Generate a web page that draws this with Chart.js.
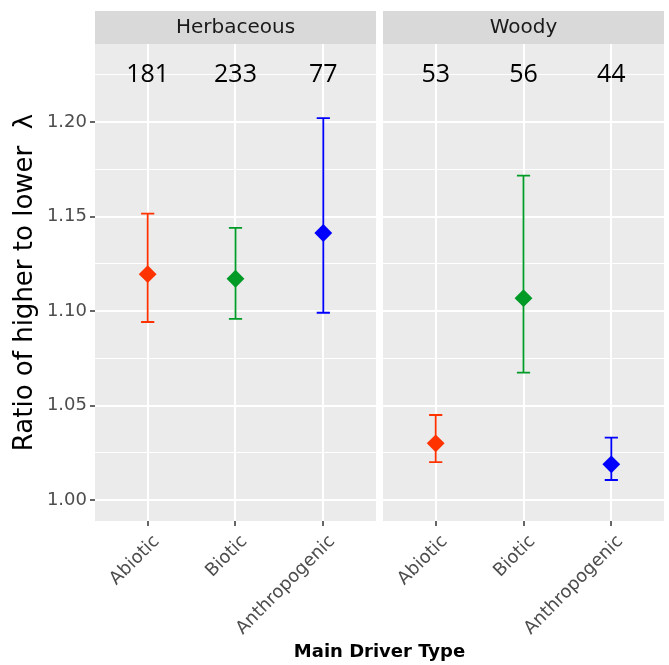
<!DOCTYPE html>
<html>
<head>
<meta charset="utf-8">
<script src="https://cdn.jsdelivr.net/npm/chart.js@4.4.0/dist/chart.umd.min.js"></script>
<style>
  html, body { margin: 0; padding: 0; background: #ffffff; }
  #wrap { position: relative; width: 669px; height: 665px; }
</style>
</head>
<body>
<div id="wrap"><canvas id="chart" width="669" height="665"></canvas></div>
<script>
// Facets and categories
const panels = ['Herbaceous', 'Woody'];
const drivers = ['Abiotic', 'Biotic', 'Anthropogenic'];
const driverColors = ['#FF3300', '#009A26', '#0000FF'];

// Herbaceous values
const herbMean = [1.1195, 1.1171, 1.1413];
const herbLower = [1.0942, 1.0958, 1.0991];
const herbUpper = [1.1515, 1.1440, 1.2021];
const herbCount = [181, 233, 77];

// Woody values
const woodyMean = [1.0300, 1.1068, 1.0189];
const woodyLower = [1.0201, 1.0674, 1.0106];
const woodyUpper = [1.0450, 1.1716, 1.0330];
const woodyCount = [53, 56, 44];

// Y axis ticks
const yMajorTicks = [1.00, 1.05, 1.10, 1.15, 1.20];
const yMinorTicks = [1.025, 1.075, 1.125, 1.175, 1.225];
const yMin = 0.9889;
const yMax = 1.2413;
const countLevel = 1.225; // height at which the sample sizes are written

const means = [herbMean, woodyMean];
const lowers = [herbLower, woodyLower];
const uppers = [herbUpper, woodyUpper];
const counts = [herbCount, woodyCount];

// facet layout in x units (ggplot style: 0.6 expansion on each side of a discrete axis)
const pad = 0.6;
const gap = 0.08;
const span = drivers.length - 1 + 2 * pad;
const xOf = (p, i) => p * (span + gap) + i;
const panelStart = p => p * (span + gap) - pad;
const panelEnd = p => panelStart(p) + span;

const font = '"DejaVu Sans", sans-serif';

const facetPlugin = {
    id: 'facets',
    beforeDraw(chart) {
        const { ctx, chartArea } = chart;
        ctx.save();
        ctx.fillStyle = '#EBEBEB';
        ctx.fillRect(chartArea.left, chartArea.top, chartArea.right - chartArea.left, chartArea.bottom - chartArea.top);
        ctx.restore();
    },
    beforeDatasetsDraw(chart) {
        const { ctx, chartArea } = chart;
        const xs = chart.scales.x, ys = chart.scales.y;
        ctx.save();
        // white strip between the panels
        for (let p = 0; p < panels.length - 1; p++) {
            const a = xs.getPixelForValue(panelEnd(p));
            const b = xs.getPixelForValue(panelStart(p + 1));
            ctx.fillStyle = '#ffffff';
            ctx.fillRect(a, chartArea.top, b - a, chartArea.bottom - chartArea.top);
        }
        // error bars
        ctx.lineWidth = 1.8;
        const capHalf = 6.6;
        panels.forEach((panel, p) => {
            drivers.forEach((d, i) => {
                const x = xs.getPixelForValue(xOf(p, i));
                const yl = ys.getPixelForValue(lowers[p][i]);
                const yu = ys.getPixelForValue(uppers[p][i]);
                ctx.strokeStyle = driverColors[i];
                ctx.beginPath();
                ctx.moveTo(x, yl); ctx.lineTo(x, yu);
                ctx.moveTo(x - capHalf, yl); ctx.lineTo(x + capHalf, yl);
                ctx.moveTo(x - capHalf, yu); ctx.lineTo(x + capHalf, yu);
                ctx.stroke();
            });
        });
        ctx.restore();
    },
    afterDatasetsDraw(chart) {
        const { ctx, chartArea } = chart;
        const xs = chart.scales.x, ys = chart.scales.y;
        ctx.save();
        // strips
        panels.forEach((panel, p) => {
            const a = xs.getPixelForValue(panelStart(p));
            const b = xs.getPixelForValue(panelEnd(p));
            const top = chartArea.top - 33;
            ctx.fillStyle = '#D9D9D9';
            ctx.fillRect(a, top, b - a, 33);
            ctx.fillStyle = '#1A1A1A';
            ctx.font = '20px ' + font;
            ctx.textAlign = 'center';
            ctx.textBaseline = 'middle';
            ctx.fillText(panel, (a + b) / 2, top + 17);
        });
        // sample sizes
        ctx.fillStyle = '#000000';
        ctx.font = '25px "Open Sans", sans-serif';
        ctx.textAlign = 'center';
        ctx.textBaseline = 'middle';
        const yc = ys.getPixelForValue(countLevel);
        panels.forEach((panel, p) => {
            drivers.forEach((d, i) => {
                ctx.fillText(String(counts[p][i]), xs.getPixelForValue(xOf(p, i)), yc);
            });
        });
        ctx.restore();
    }
};

const datasets = drivers.map((d, i) => ({
    label: d,
    data: panels.map((panel, p) => ({ x: xOf(p, i), y: means[p][i] })),
    pointStyle: 'rectRot',
    pointRadius: 7.5,
    pointHoverRadius: 7.5,
    backgroundColor: driverColors[i],
    borderColor: driverColors[i],
    borderWidth: 2,
    showLine: false
}));

const ctx = document.getElementById('chart').getContext('2d');
const chart = new Chart(ctx, {
    type: 'scatter',
    data: { datasets: datasets },
    options: {
        responsive: false,
        animation: false,
        layout: { autoPadding: false, padding: { left: 0, right: 5, top: 44, bottom: 0 } },
        plugins: { legend: { display: false }, tooltip: { enabled: false } },
        scales: {
            x: {
                type: 'linear',
                min: panelStart(0),
                max: panelEnd(panels.length - 1),
                afterBuildTicks: axis => {
                    axis.ticks = [];
                    panels.forEach((panel, p) => drivers.forEach((d, i) => axis.ticks.push({ value: xOf(p, i) })));
                },
                afterFit: axis => {
                    axis.height = 144;
                    axis.paddingLeft = 0;
                    axis.paddingRight = 0;
                },
                border: { display: false },
                grid: { color: '#ffffff', lineWidth: 2, tickColor: '#333333', tickLength: 5, tickWidth: 1.5 },
                ticks: {
                    autoSkip: false,
                    minRotation: 45,
                    maxRotation: 45,
                    padding: 5,
                    labelOffset: 9,
                    color: '#4D4D4D',
                    font: { family: font, size: 18 },
                    callback: (v, idx) => drivers[idx % drivers.length]
                },
                title: {
                    display: true,
                    text: 'Main Driver Type',
                    color: '#000000',
                    font: { family: font, size: 18, weight: 'bold' },
                    padding: { top: 0, bottom: 2 }
                }
            },
            y: {
                min: yMin,
                max: yMax,
                afterBuildTicks: axis => {
                    axis.ticks = yMajorTicks.map(v => ({ value: v, major: true }))
                        .concat(yMinorTicks.map(v => ({ value: v, major: false })))
                        .sort((a, b) => a.value - b.value);
                },
                afterFit: axis => {
                    axis.width = 95;
                    axis.paddingTop = 0;
                    axis.paddingBottom = 0;
                },
                border: { display: false },
                grid: {
                    color: '#ffffff',
                    lineWidth: c => (c.tick && c.tick.major ? 2 : 1),
                    tickColor: c => (c.tick && c.tick.major ? '#333333' : 'rgba(0,0,0,0)'),
                    tickLength: 5,
                    tickWidth: 1.5
                },
                ticks: {
                    padding: 3,
                    color: '#4D4D4D',
                    font: { family: font, size: 18 },
                    callback: (v, idx, ticks) => (ticks[idx].major ? v.toFixed(2) : '')
                },
                title: {
                    display: true,
                    text: 'Ratio of higher to lower  λ',
                    color: '#000000',
                    font: { family: font, size: 26 },
                    padding: { top: 10, bottom: 4 }
                }
            }
        }
    },
    plugins: [facetPlugin]
});
</script>
</body>
</html>
